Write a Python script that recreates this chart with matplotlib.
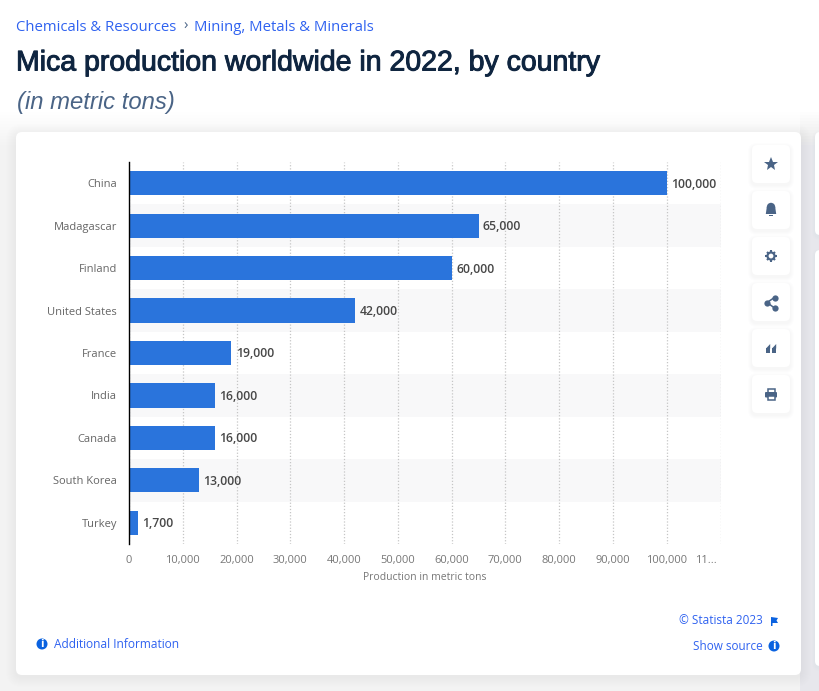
import matplotlib
matplotlib.use("Agg")
from matplotlib import pyplot as plt
from matplotlib import patheffects
from matplotlib.patches import FancyBboxPatch, Circle, Rectangle, Polygon

# chart values
countries = ["China", "Madagascar", "Finland", "United States", "France", "India", "Canada", "South Korea", "Turkey"]
production = [100000, 65000, 60000, 42000, 19000, 16000, 16000, 13000, 1700]
x_ticks = [0, 10000, 20000, 30000, 40000, 50000, 60000, 70000, 80000, 90000, 100000]
x_tick_labels = ["0", "10,000", "20,000", "30,000", "40,000", "50,000", "60,000", "70,000", "80,000", "90,000", "100,000"]
x_max = 110000
cut_label = "11..."

W, H = 819, 691
BLUE = "#2a74dc"
LINK = "#2f62f0"
SLATE = "#4a6486"
SANS = "Open Sans"


def card(ax, x, y, w, h, r=6, shadow=6, z=1, alpha=0.012):
    # stacked see-through boxes stand in for the css shadow
    for s in range(shadow, 0, -1):
        ax.add_patch(FancyBboxPatch((x - s, y - s + 2), w + 2 * s, h + 2 * s, boxstyle=f"round,pad=0,rounding_size={r + s}",
                                    fc="#5a6a8a", ec="none", alpha=alpha, zorder=z))
    ax.add_patch(FancyBboxPatch((x, y), w, h, boxstyle=f"round,pad=0,rounding_size={r}", fc="white", ec="none", zorder=z + 0.1))


def info_icon(ax, cx, cy):
    ax.add_patch(Circle((cx, cy), 5.5, fc="#0a62e0", ec="none", zorder=3))
    ax.text(cx, cy + 0.3, "i", color="white", fontsize=7, fontweight="bold", ha="center", va="center", family="DejaVu Sans", zorder=4)


def draw_icons(ax, cx):
    z = 3
    # star
    ax.plot([cx], [164], marker="*", ms=10.5, color=SLATE, mew=0, zorder=z)
    # bell
    ax.add_patch(Circle((cx, 207), 4.2, fc=SLATE, ec="none", zorder=z))
    ax.add_patch(Polygon([(cx - 4.2, 207), (cx + 4.2, 207), (cx + 5.2, 214), (cx - 5.2, 214)], fc=SLATE, ec="none", zorder=z))
    ax.add_patch(Rectangle((cx - 2, 215), 4, 1, fc=SLATE, ec="none", zorder=z))
    # gear
    ax.add_patch(Circle((cx, 256), 4.6, fc=SLATE, ec="none", zorder=z))
    for dx, dy in [(5.6, 0), (0, 5.6), (4, 4), (4, -4)]:
        ax.plot([cx - dx, cx + dx], [256 - dy, 256 + dy], color=SLATE, lw=1.5, solid_capstyle="butt", zorder=z)
    ax.add_patch(Circle((cx, 256), 2.4, fc="white", ec="none", zorder=z + 1))
    # share
    ax.plot([cx + 3.5, cx - 4, cx + 3.5], [297.5, 302.5, 308], color=SLATE, lw=1.1, zorder=z)
    ax.plot([cx + 3.5, cx - 4, cx + 3.5], [297.5, 302.5, 308], "o", ms=4.5, color=SLATE, mew=0, zorder=z)
    # quote
    for dx in (-5, 1):
        ax.add_patch(Rectangle((cx + dx, 348), 4.2, 4.5, fc=SLATE, ec="none", zorder=z))
        ax.add_patch(Polygon([(cx + dx, 348.5), (cx + dx + 4.2, 344), (cx + dx + 4.2, 348.5)], fc=SLATE, ec="none", zorder=z))
    # printer
    ax.add_patch(Rectangle((cx - 3.5, 389), 7, 4, fc="white", ec=SLATE, lw=1.1, zorder=z))
    ax.add_patch(FancyBboxPatch((cx - 6, 392), 12, 5.5, boxstyle="round,pad=0,rounding_size=1", fc=SLATE, ec="none", zorder=z + 1))
    ax.add_patch(Rectangle((cx - 3.5, 395.5), 7, 4, fc="white", ec=SLATE, lw=1.1, zorder=z + 2))


fig = plt.figure(figsize=(W / 100, H / 100), dpi=100, facecolor="#ffffff")

# page layer in pixel coordinates
page = fig.add_axes([0, 0, 1, 1], zorder=0)
page.set(xlim=(0, W), ylim=(H, 0))
page.axis("off")
# background fades in from white under the heading
for i in range(12):
    page.add_patch(Rectangle((0, 112 + i * 3), W, H, fc="#dfe4ec", ec="none", alpha=0.018, zorder=0))
    page.add_patch(Rectangle((800, 112 + i * 3), 19, H, fc="#dfe4ec", ec="none", alpha=0.016, zorder=0.1))
card(page, 16, 132, 785, 543, r=6, shadow=10, alpha=0.003)
card(page, 815, 132, 30, 103, r=5, shadow=3, alpha=0.006)
card(page, 815, 250, 30, 416, r=5, shadow=3, alpha=0.006)
for top in (145, 191, 237, 283, 329, 375):
    card(page, 752, top, 38, 38, r=5, shadow=4, z=2, alpha=0.01)
draw_icons(page, 771)

page.text(16, 27, "Chemicals & Resources", color=LINK, fontsize=10.75, family=SANS, va="center")
page.text(183, 26, "›", color=SLATE, fontsize=10.7, family=SANS, va="center")
page.text(194, 27, "Mining, Metals & Minerals", color=LINK, fontsize=10.75, family=SANS, va="center")
page.text(16, 63.5, "Mica production worldwide in 2022, by country", color="#0f2540", fontsize=20.5,
          family="Liberation Sans", va="center",
          path_effects=[patheffects.withStroke(linewidth=0.7, foreground="#0f2540")])
page.text(17, 102, "(in metric tons)", color=SLATE, fontsize=17.2, family="Liberation Sans", style="italic", va="center")

info_icon(page, 42, 644)
page.text(54, 644, "Additional Information", color=LINK, fontsize=8.6, family=SANS, va="center", zorder=3)
page.text(763, 621, "© Statista 2023", color=LINK, fontsize=8.5, family=SANS, ha="right", va="center", zorder=3)
page.add_patch(Polygon([(771, 617), (778, 618), (776.5, 620.5), (778, 623), (772.5, 623), (772.5, 626), (771, 626)], fc="#0a62e0", ec="none", zorder=3))
page.text(763, 646, "Show source", color=LINK, fontsize=8.5, family=SANS, ha="right", va="center", zorder=3)
info_icon(page, 774, 646)

# chart
left, right, top, bottom = 129, 720.5, 162, 544
ax = fig.add_axes([left / W, 1 - bottom / H, (right - left) / W, (bottom - top) / H], zorder=1)
ax.patch.set_alpha(0)
y = list(range(len(countries)))
for i in y:
    if i % 2 == 1:
        ax.axhspan(i - 0.5, i + 0.5, color="#f8f8f9", lw=0, zorder=0)
ax.barh(y, production, height=0.57, color=BLUE, zorder=3)
ax.set_xlim(0, x_max)
ax.set_ylim(len(countries) - 0.5, -0.5)
ax.set_yticks(y, countries)
ax.set_xticks(x_ticks + [x_max], x_tick_labels + [""])
ax.xaxis.grid(True, color="#c6c6c6", ls=(0, (1, 1.5)), lw=0.9, zorder=1)
ax.set_axisbelow(True)
ax.tick_params(axis="both", length=0)
ax.tick_params(axis="y", pad=12 * 0.72, labelsize=8, labelcolor="#666666")
ax.tick_params(axis="x", pad=11 * 0.72, labelsize=8, labelcolor="#777777")
for lab in ax.get_xticklabels() + ax.get_yticklabels():
    lab.set_family(SANS)
for side in ("top", "right", "bottom"):
    ax.spines[side].set_visible(False)
ax.spines["left"].set_color("black")
ax.spines["left"].set_linewidth(1)
ax.spines["left"].set_zorder(5)
for yi, val in zip(y, production):
    ax.annotate(f"{val:,}", (val, yi), xytext=(3.2, -0.7), textcoords="offset points", va="center", ha="left",
                fontsize=8.8, fontweight="semibold", color="#484848", family=SANS, zorder=4)
ax.annotate(cut_label, (x_max, len(countries) - 0.5), xytext=(-3, -11 * 0.72), textcoords="offset points",
            ha="right", va="top", fontsize=8, color="#777777", family=SANS)
page.text(425, 578, "Production in metric tons", color="#777777", fontsize=7.45, family=SANS, ha="center", va="center", zorder=3)

fig.savefig("out.png", dpi=100)
